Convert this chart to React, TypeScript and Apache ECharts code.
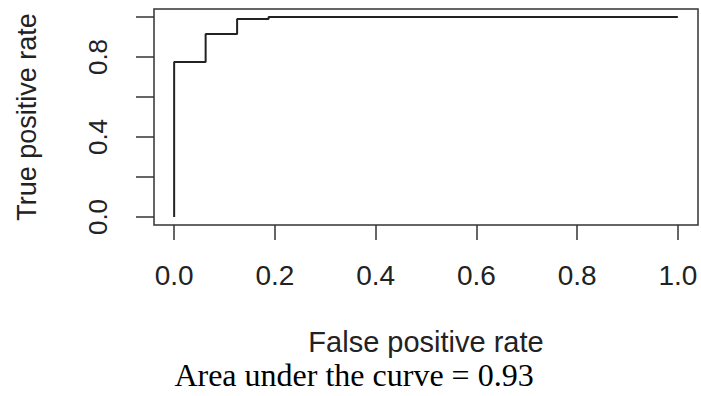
import React, { useEffect, useRef } from "react";
import * as echarts from "echarts";

const fpr = [0, 0, 0.0625, 0.0625, 0.125, 0.125, 0.1875, 0.1875, 1];
const tpr = [0, 0.775, 0.775, 0.915, 0.915, 0.99, 0.99, 1, 1];
const xTicks = [0, 0.2, 0.4, 0.6, 0.8, 1.0];
const yTicks = [0, 0.2, 0.4, 0.6, 0.8, 1.0];
const yLabels = [0, 0.4, 0.8];
const xTitle = "False positive rate";
const yTitle = "True positive rate";
const caption = "Area under the curve = 0.93";

export default function App() {
  const ref = useRef<HTMLDivElement>(null);
  useEffect(() => {
    document.body.style.margin = "0";
    const chart = echarts.init(ref.current!, null, { renderer: "svg" });
    const sans = "Liberation Sans";
    const ink = "#222";
    const pts = fpr.map((x, i) => [x, tpr[i]]);
    chart.setOption({
      animation: false,
      backgroundColor: "#fff",
      grid: {
        left: 154,
        top: 9,
        width: 544,
        height: 216,
        show: true,
        borderColor: "#333",
        borderWidth: 1.5,
        backgroundColor: "transparent",
      },
      xAxis: {
        type: "value",
        min: -0.04,
        max: 1.04,
        axisLine: { show: false, onZero: false },
        splitLine: { show: false },
        axisTick: {
          show: true,
          customValues: xTicks,
          length: 15,
          inside: false,
          lineStyle: { color: "#333", width: 1.5 },
        },
        axisLabel: {
          customValues: xTicks,
          formatter: (v: number) => v.toFixed(1),
          margin: 36,
          fontFamily: sans,
          fontSize: 28,
          color: ink,
        },
        name: xTitle,
        nameLocation: "middle",
        nameGap: 104,
        nameTextStyle: { fontFamily: sans, fontSize: 29, lineHeight: 26, color: ink },
      },
      yAxis: {
        type: "value",
        min: -0.04,
        max: 1.04,
        axisLine: { show: false, onZero: false },
        splitLine: { show: false },
        axisTick: {
          show: true,
          customValues: yTicks,
          length: 18,
          inside: false,
          lineStyle: { color: "#333", width: 1.5 },
        },
        axisLabel: {
          customValues: yLabels,
          formatter: (v: number) => v.toFixed(1),
          rotate: 90,
          margin: 43,
          fontFamily: sans,
          fontSize: 26,
          color: ink,
        },
        name: yTitle,
        nameLocation: "middle",
        nameRotate: 90,
        nameGap: 114,
        nameTextStyle: { fontFamily: sans, fontSize: 27, color: ink },
      },
      series: [
        {
          type: "line",
          data: pts,
          showSymbol: false,
          symbol: "none",
          lineStyle: { color: ink, width: 2 },
          silent: true,
        },
      ],
      graphic: [
        {
          type: "text",
          x: 354,
          y: 375,
          style: {
            text: caption,
            font: "32px 'Liberation Serif', 'Times New Roman', serif",
            lineHeight: 26,
            fill: "#000",
            textAlign: "center",
            textVerticalAlign: "middle",
          },
        },
      ],
    });
    return () => chart.dispose();
  }, []);
  return (
    <div
      ref={ref}
      style={{ width: 701, height: 396, position: "absolute", left: 0, top: 0 }}
    />
  );
}
